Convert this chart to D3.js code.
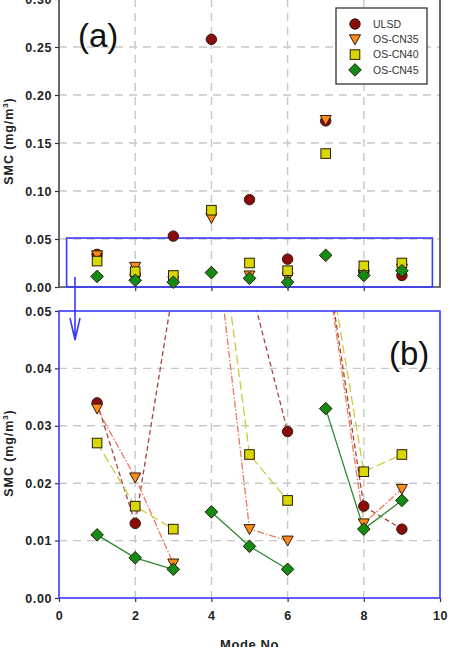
<!DOCTYPE html>
<html><head><meta charset="utf-8">
<script src="https://cdn.jsdelivr.net/npm/d3@7"></script>
<style>
body{margin:0;background:#fff;}
svg{display:block;font-family:"Liberation Sans",Arial,sans-serif;}
</style></head><body>
<svg id="c" width="453" height="647"></svg>
<script>
const modes = [1,2,3,4,5,6,7,8,9];
const seriesNames = ["ULSD","OS-CN35","OS-CN40","OS-CN45"];
// panel (a) marker values
const ulsd   = [0.034,0.013,0.053,0.258,0.091,0.029,0.173,0.016,0.012];
const cn35   = [0.033,0.021,0.006,0.072,0.012,0.010,0.174,0.013,0.019];
const cn40   = [0.027,0.016,0.012,0.080,0.025,0.017,0.139,0.022,0.025];
const cn45   = [0.011,0.007,0.005,0.015,0.009,0.005,0.033,0.012,0.017];
// panel (b) line values (off-scale ends follow the drawn line directions)
const ulsdB  = [0.034,0.013,0.054,0.070,0.055,0.029,0.060,0.016,0.012];
const cn35B  = [0.033,0.021,0.006,0.069,0.012,0.010,0.059,0.013,0.019];
const cn40B  = [0.027,0.016,0.012,0.076,0.025,0.017,0.062,0.022,0.025];
const cn45B  = [0.011,0.007,0.005,0.015,0.009,0.005,0.033,0.012,0.017];
const groups = [[1,2,3],[4,5,6],[7,8,9]];
const xTicks = [0,2,4,6,8,10];
const yTopTicks = [0,0.05,0.10,0.15,0.20,0.25,0.30];
const yBotTicks = [0,0.01,0.02,0.03,0.04,0.05];
const zoomBox = {x0:0.2,x1:9.8,y0:0,y1:0.051};
const arrowX = 0.42;

const seriesVals = [ulsd,cn35,cn40,cn45];
const seriesValsB = [ulsdB,cn35B,cn40B,cn45B];
const styles = [
  {shape:"circle",fill:"#8b0a0a",line:"#a8443c",dash:"5,3"},
  {shape:"tri",fill:"#ff8c1a",line:"#ec7a58",dash:"7,2,1.5,2"},
  {shape:"square",fill:"#d8d800",line:"#cccc3a",dash:"9,4"},
  {shape:"diamond",fill:"#148c14",line:"#2e8b2e",dash:null}
];

const svg = d3.select("#c");
const x = d3.scaleLinear().domain([0,10]).range([59,440]);
const yT = d3.scaleLinear().domain([0,0.30]).range([287,-1]);
const yB = d3.scaleLinear().domain([0,0.05]).range([598,311]);

const fmt = d3.format(".2f");
const gridCol = "#c8c8c8";

function marker(g, shape, cx, cy, fill){
  let el;
  if(shape==="circle"){
    el = g.append("circle").attr("cx",cx).attr("cy",cy).attr("r",5.2);
  } else if(shape==="tri"){
    el = g.append("path").attr("d",`M${cx-5.5},${cy-4.5}L${cx+5.5},${cy-4.5}L${cx},${cy+5.5}Z`);
  } else if(shape==="square"){
    el = g.append("rect").attr("x",cx-4.8).attr("y",cy-4.8).attr("width",9.6).attr("height",9.6);
  } else {
    el = g.append("path").attr("d",`M${cx},${cy-6.3}L${cx+6.3},${cy}L${cx},${cy+6.3}L${cx-6.3},${cy}Z`);
  }
  el.attr("fill",fill).attr("stroke","#2a1a0a").attr("stroke-width",1);
}

// ---------- Top panel (a) ----------
const topG = svg.append("g");
topG.selectAll(".gx").data([2,4,6,8]).join("line")
  .attr("x1",d=>x(d)).attr("x2",d=>x(d)).attr("y1",yT(0.30)).attr("y2",yT(0))
  .attr("stroke",gridCol).attr("stroke-width",1.4).attr("stroke-dasharray","8,6");
topG.selectAll(".gy").data([0.05,0.10,0.15,0.20,0.25]).join("line")
  .attr("x1",x(0)).attr("x2",x(10)).attr("y1",d=>yT(d)).attr("y2",d=>yT(d))
  .attr("stroke",gridCol).attr("stroke-width",1.4).attr("stroke-dasharray","8,6");
const axL = d3.axisLeft(yT).tickValues(yTopTicks).tickFormat(fmt).tickSize(4).tickPadding(3);
const gL = topG.append("g").attr("transform",`translate(${x(0)},0)`).call(axL);
const axBt = d3.axisBottom(x).tickValues([2,4,6,8]).tickFormat("").tickSize(4);
const gBt = topG.append("g").attr("transform",`translate(0,${yT(0)})`).call(axBt);
[gL,gBt].forEach(g=>{
  g.select(".domain").remove();
  g.selectAll(".tick line").attr("stroke","#333").attr("stroke-width",1.2);
  g.selectAll("text").attr("fill","#222").attr("font-size",12.5).attr("font-weight","bold").attr("letter-spacing","0.6px");
});
topG.append("path").attr("d",`M${x(0)},${yT(0.30)}V${yT(0)}H${x(10)}V${yT(0.30)}`)
  .attr("fill","none").attr("stroke","#444").attr("stroke-width",1.6);
topG.append("rect").attr("x",x(zoomBox.x0)).attr("y",yT(zoomBox.y1))
  .attr("width",x(zoomBox.x1)-x(zoomBox.x0)).attr("height",yT(zoomBox.y0)-yT(zoomBox.y1))
  .attr("fill","none").attr("stroke","#3a3aff").attr("stroke-width",1.6);
seriesVals.forEach((vals,si)=>{
  const g = topG.append("g");
  vals.forEach((v,i)=>marker(g,styles[si].shape,x(modes[i]),yT(v),styles[si].fill));
});
topG.append("text").attr("x",78).attr("y",47).attr("font-size",33).attr("fill","#111").text("(a)");
const lg = topG.append("g");
lg.append("rect").attr("x",336).attr("y",8).attr("width",91).attr("height",76)
  .attr("fill","#fff").attr("stroke","#333").attr("stroke-width",1.3);
seriesNames.forEach((n,i)=>{
  const yy = 24 + i*15.3;
  marker(lg,styles[i].shape,355,yy,styles[i].fill);
  lg.append("text").attr("x",373).attr("y",yy+3.8).attr("font-size",10.5).attr("fill","#333").text(n);
});
function yTitle(cy){
  const t = svg.append("text").attr("transform",`translate(13,${cy}) rotate(-90)`)
    .attr("text-anchor","middle").attr("font-size",12.5).attr("font-weight","bold").attr("fill","#222")
    .attr("letter-spacing","0.9px");
  t.append("tspan").text("SMC (mg/m");
  t.append("tspan").attr("font-size",8).attr("dy",-5).text("3");
  t.append("tspan").attr("dy",5).text(")");
}
yTitle(141);

// ---------- Bottom panel (b) ----------
const botG = svg.append("g");
botG.append("clipPath").attr("id","clipB").append("rect")
  .attr("x",x(0)).attr("y",yB(0.05)).attr("width",x(10)-x(0)).attr("height",yB(0)-yB(0.05));
botG.selectAll(".gx").data([2,4,6,8]).join("line")
  .attr("x1",d=>x(d)).attr("x2",d=>x(d)).attr("y1",yB(0.05)).attr("y2",yB(0))
  .attr("stroke",gridCol).attr("stroke-width",1.4).attr("stroke-dasharray","8,6");
botG.selectAll(".gy").data([0.01,0.02,0.03,0.04]).join("line")
  .attr("x1",x(0)).attr("x2",x(10)).attr("y1",d=>yB(d)).attr("y2",d=>yB(d))
  .attr("stroke",gridCol).attr("stroke-width",1.4).attr("stroke-dasharray","8,6");
const axLB = d3.axisLeft(yB).tickValues(yBotTicks).tickFormat(fmt).tickSize(4).tickPadding(3);
const gLB = botG.append("g").attr("transform",`translate(${x(0)},0)`).call(axLB);
const axBB = d3.axisBottom(x).tickValues(xTicks).tickFormat(d3.format("d")).tickSize(4).tickPadding(9);
const gBB = botG.append("g").attr("transform",`translate(0,${yB(0)})`).call(axBB);
[gLB,gBB].forEach(g=>{
  g.select(".domain").remove();
  g.selectAll(".tick line").attr("stroke","#333").attr("stroke-width",1.2);
  g.selectAll("text").attr("fill","#222").attr("font-size",12.5).attr("font-weight","bold").attr("letter-spacing","0.6px");
});
const lineGen = d3.line().x(d=>x(d[0])).y(d=>yB(d[1]));
const lg2 = botG.append("g").attr("clip-path","url(#clipB)");
seriesValsB.forEach((vals,si)=>{
  groups.forEach(gr=>{
    const pts = gr.map(m=>[m, vals[modes.indexOf(m)]]);
    lg2.append("path").attr("d",lineGen(pts)).attr("fill","none")
      .attr("stroke",styles[si].line).attr("stroke-width",1.3)
      .attr("stroke-dasharray",styles[si].dash);
  });
});
const mg = botG.append("g").attr("clip-path","url(#clipB)");
seriesVals.forEach((vals,si)=>{
  vals.forEach((v,i)=>{ if(v<=0.05) marker(mg,styles[si].shape,x(modes[i]),yB(v),styles[si].fill); });
});
botG.append("rect").attr("x",x(0)).attr("y",yB(0.05)).attr("width",x(10)-x(0)).attr("height",yB(0)-yB(0.05))
  .attr("fill","none").attr("stroke","#3a3aff").attr("stroke-width",1.6);
botG.append("text").attr("x",389).attr("y",365).attr("font-size",33).attr("fill","#111").text("(b)");
yTitle(453);
botG.append("text").attr("x",(x(0)+x(10))/2).attr("y",649).attr("text-anchor","middle")
  .attr("font-size",13).attr("font-weight","bold").attr("fill","#222").attr("letter-spacing","0.6px").text("Mode No");

const ax = x(arrowX);
svg.append("path").attr("d",`M${ax},277V340M${ax-5},318L${ax},340L${ax+5},318`)
  .attr("fill","none").attr("stroke","#3a3aff").attr("stroke-width",1.6);
</script>
</body></html>
